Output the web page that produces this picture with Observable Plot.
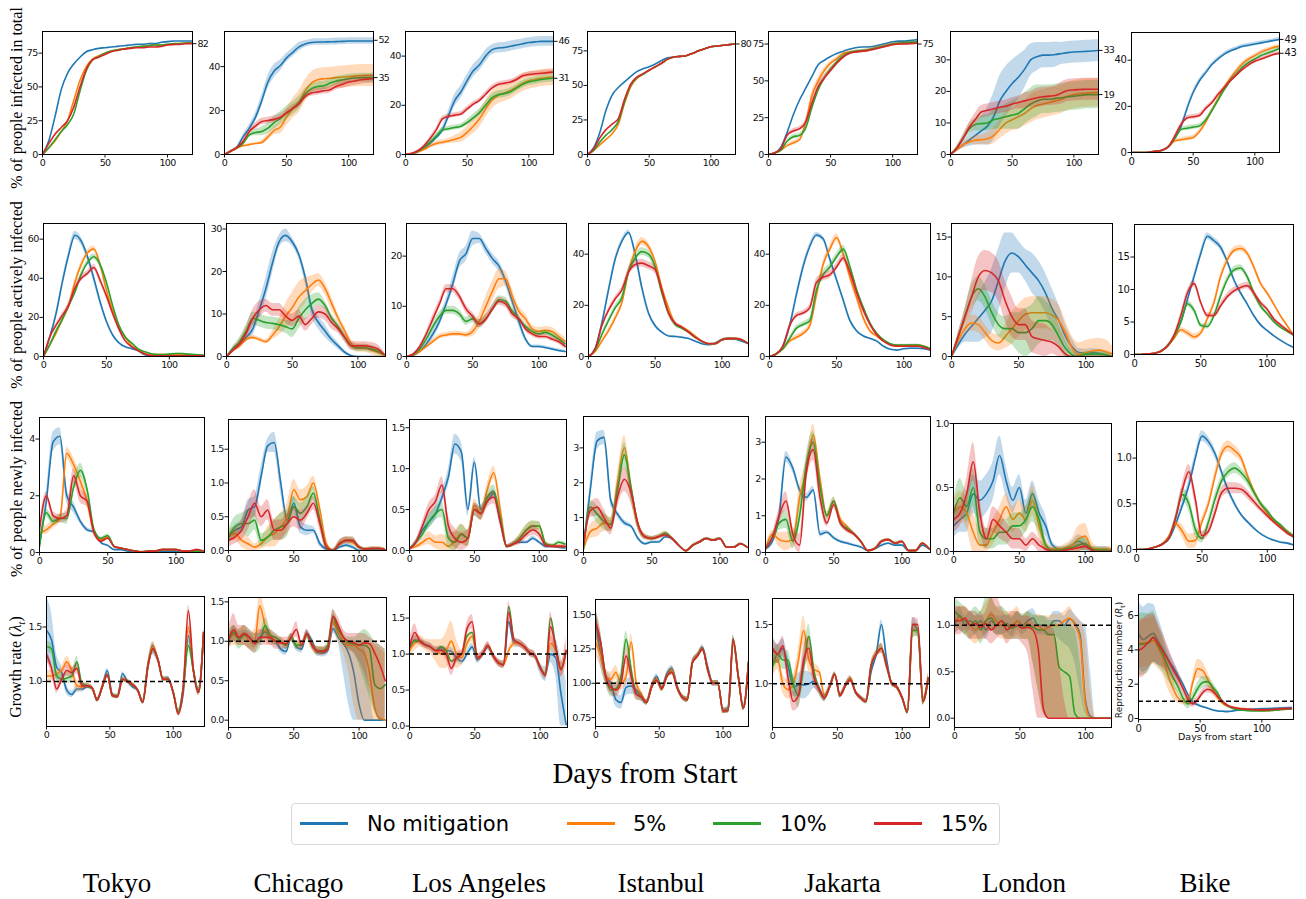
<!DOCTYPE html>
<html>
<head>
<meta charset="utf-8">
<script src="https://cdn.jsdelivr.net/npm/d3@7"></script>
<script src="https://cdn.jsdelivr.net/npm/@observablehq/plot@0.6"></script>
<style>
html,body{margin:0;padding:0;background:#fff;}
#root{position:relative;width:1306px;height:899px;overflow:hidden;background:#fff;}
.rowlab{position:absolute;font-family:"Liberation Serif","Times New Roman",serif;font-size:16px;white-space:nowrap;color:#000;transform:translate(-50%,-50%) rotate(-90deg);line-height:1;}
.city{position:absolute;font-family:"Liberation Serif","Times New Roman",serif;font-size:27px;white-space:nowrap;color:#000;transform:translate(-50%,-50%);line-height:1;}
.big{position:absolute;font-family:"Liberation Serif","Times New Roman",serif;font-size:29px;white-space:nowrap;color:#000;transform:translate(-50%,-50%);line-height:1;}
.small{position:absolute;font-family:"DejaVu Sans",sans-serif;font-size:9.5px;white-space:nowrap;color:#111;line-height:1;}
#legend{position:absolute;left:291px;top:803px;width:709px;height:42px;border:1px solid #d6d6d6;border-radius:4px;box-sizing:border-box;background:#fff;}
.lgline{position:absolute;height:3px;}
.lgtext{position:absolute;font-family:"DejaVu Sans",sans-serif;font-size:21px;line-height:1;transform:translateY(-50%);white-space:nowrap;color:#000;}
</style>
</head>
<body>
<div id="root"></div>
<script>
// ---------- categories / labels ----------
const SERIES = ["No mitigation","5%","10%","15%"];
const COLORS = ["#1f77b4","#ff7f0e","#2ca02c","#d62728"];
const CITIES = ["Tokyo","Chicago","Los Angeles","Istanbul","Jakarta","London","Bike"];
const ROW_LABELS = ["% of people infected in total","% of people actively infected","% of people newly infected","Growth rate (λ_t)"];
const X_TICKS = [0,50,100];

// ---------- day grids ----------
const D5 = [0,5,10,15,20,25,30,35,40,45,50,55,60,65,70,75,80,85,90,95,100,105,110,115,120];
const D5T = [0,5,10,15,20,25,30,35,40,45,50,55,60,65,70,75,80,85,90,95,100,105,110,115,120,127];
const D4 = [0,4,8,12,16,20,24,28,32,36,40,44,48,52,56,60,64,68,72,76,80,84,88,92,96,100,104,108,112,116,120];
const D4X = [0,4,8,12,16,20,24,28,32,36,40,44,48,52,56,60,64,68,72,76,80,84,88,92,96,100,104,108,112,116,120,124];

// ---------- row 1: % infected in total ----------
const tok_tot_n = [0,10,28,48,60,67,72,76,77.5,78.5,79,79.5,80,80.5,81,81.5,81.5,82,82,83,83.5,84,84,84,84];
const tok_tot_5 = [0,5,10,17,25,40,55,65,70.5,73,75,76.5,77.5,78,79,79.5,80,80.5,81,81,81.5,81.5,82,82.5,82.5];
const tok_tot_10 = [0,5,11,17,22,30,47,62,70,72.5,75,76.5,77.5,78,79,79.5,80,80.5,81,81,81.5,82,82,82.5,82.5];
const tok_tot_15 = [0,8,15,20,25,35,50,63,70,72,74,76,77,78,78.5,79,79,79.5,79.5,80,81,81.5,81.5,82,82];
const chi_tot_n = [0,1.5,3.3,8,12,17,24.5,33,38,40.5,44,46.5,49,50.3,51,51.2,51.2,51.3,51.4,51.5,51.7,51.7,51.7,51.7,51.7];
const chi_tot_5 = [0,1.5,3,4,4.5,5,5.5,8,11,12.5,17,21,24,29,32.5,34,34.5,34.7,35,35.3,35.5,35.8,36,36,36];
const chi_tot_10 = [0,1.5,3,5,9,10,10.5,12,14.5,16.5,19,21,23.5,27.5,30,31,31.3,32.5,33.5,34,34.5,34.8,35,35,35];
const chi_tot_15 = [0,1.5,3,6,10.5,13,15,15.5,16,17,19,21,23,26.5,28,28.5,29,29.5,31,32,33,33.5,34,34.3,34.5];
const chi_tot_n_sd = [0,0.3,0.5,1,1.5,2,2.5,3,3,2.5,2,2,2,1.5,1.5,1.5,1.5,1.5,1.5,1.5,1.5,1.5,1.5,1.5,1.5];
const chi_tot_5_sd = [0,0.3,0.5,0.5,0.5,0.5,1,1.5,2,3,4,4.5,5,5,5,5,5,5,5,5,5,5,5,5,5];
const chi_tot_10_sd = [0,0.3,0.5,0.8,1,1.5,2,2.5,3,3,3,3,3,2.5,2,2,2,2,2,2,2,2,2,2,2];
const chi_tot_15_sd = [0,0.3,0.5,0.8,1,1.5,1.5,1.5,1.5,1.5,1.5,1.5,1.5,1.5,1.5,1.5,1.5,1.5,1.5,2,2,2,2,2,2];
const la_tot_n = [0,0.3,1,2.5,4.5,7,10,16,22,25.5,30,34,36.5,40,42.5,43.3,43.5,44,44.5,45,45.5,45.8,46,46,46];
const la_tot_5 = [0,0.3,1,2,3.5,4.5,5,5.5,6.2,7,9,11.5,14.5,18.5,22,24,25,26,27.5,29,30,30.5,31,31.3,31.5];
const la_tot_10 = [0,0.4,1.3,3,5,7.5,10,10.5,11,11.5,13,15,17,20,23,24.3,24.7,25.5,27,28.5,29.5,30,30.5,30.8,31];
const la_tot_15 = [0,0.5,1.5,3.5,6.5,10,14.5,15.5,16,16.5,18.5,20.5,22,24.5,27,28.5,29,29.5,30.5,32,32.5,32.8,33,33.3,33.5];
const la_tot_n_sd = [0,0,0.3,0.5,1,1,1.5,2,2.5,2.5,2.5,2.5,2.5,2.5,2,2,2,2,2,2,2,2,2,2,2];
const la_tot_5_sd = [0,0,0.3,0.5,1,1,1,1,1.5,2,2.5,3,3.5,3.5,3.5,3.5,3.5,3.5,3.5,3.5,3.5,3.5,3.5,3.5,3.5];
const la_tot_10_sd = [0,0,0.3,0.5,0.8,1,1,1,1,1,1.2,1.5,1.5,1.5,1.5,1.5,1.5,1.5,1.5,1.5,1.5,1.5,1.5,1.5,1.5];
const la_tot_15_sd = [0,0,0.3,0.5,0.8,1,1,1,1,1,1,1,1,1,1,1,1,1,1,1,1,1,1,1,1];
const ist_tot_n = [0,5,16,32,43,48.5,52.5,56.5,60,62,63.5,65.5,68,70,70.5,71,71.5,73,75,76.5,78,78.5,79,79.5,80];
const ist_tot_5 = [0,3,7,11,15,22,37,49,55,58,61,63.5,66,69,70.5,71,71.5,73,75,76.5,78,78.5,79,79.5,80];
const ist_tot_10 = [0,3,9,14,18,24,38,50,55.5,58,61,63.5,66,69,70.5,71,71.5,73,75,76.5,78,78.5,79,79.5,80];
const ist_tot_15 = [0,4,12,18,22,26,40,51,56,58.5,61,63.5,66,69,70.5,71,71.5,73,75,76.5,78,78.5,79,79.5,80];
const jak_tot_n = [0,1,5,15,27,37,45,53,61,64,66.5,68.5,70,71.5,72.5,73,73,73.5,74.5,75.5,76.5,77,77,77.5,78];
const jak_tot_5 = [0,1,3,6,8,10,22,40,50,57,62,65,68.5,69.5,70,70.5,71,72,73,74,75,75.3,75.5,75.8,76];
const jak_tot_10 = [0,1,3,9,12,13,18,32,44,52,58,63,67,69,70,70.5,71,72,73,74,75,75.5,76,76.3,76.5];
const jak_tot_15 = [0,1,4,13,16,17.5,22,35,46,52,57,62,66,68.5,69.5,70,70.5,71.5,72.5,73.5,74.5,75,75,75.3,75.5];
const jak_tot_m_sd = [0,0.3,0.5,1,1.5,1.5,2,2.5,2.5,2,1.5,1,1,0.8,0.8,0.8,0.8,0.8,0.8,0.8,0.8,0.8,0.8,0.8,0.8];
const lon_tot_n = [0,1.5,3,4.5,6,7.5,9,12,17,20,22.5,24.5,27,30,31,31.5,31.5,31.7,32,32.3,32.5,32.6,32.7,32.8,33];
const lon_tot_5 = [0,1.5,3,4,4.5,4.7,5,6,8,10,11,12,13,14.5,15.5,16,16.5,17,17.5,18.5,19,19.3,19.5,19.6,19.7];
const lon_tot_10 = [0,2,5,8,9.5,9.8,10,11,11.5,12,12.5,13,14.5,16,17,17.5,17.5,17.8,18,18.3,18.5,18.7,19,19,19];
const lon_tot_15 = [0,2,5,8.5,11,13.5,14,14.5,15,15.3,16,16.5,17,17.5,18,18.3,18.5,18.7,19.5,20.3,20.5,20.6,20.7,20.7,20.7];
const lon_tot_n_sd = [0,0.5,1,2,3,4.5,6,7.5,8,8,7.5,7,6,5,4.5,4,4,4,3.5,3.5,3.5,3.5,3.5,3.5,3.5];
const lon_tot_5_sd = [0,0.5,1,1,1.5,1.5,2,2.5,3,3.5,3.5,4,4,4.5,4.5,4.5,4.5,4.5,4.5,4.5,4.5,4.5,4.5,4.5,4.5];
const lon_tot_10_sd = [0,0.5,1,1.5,2,2.5,2.5,3,3.5,4,4.5,5,5,5,5,4.5,4.5,4.5,4.5,4.5,4.5,4.5,4.5,4.5,4.5];
const lon_tot_15_sd = [0,0.5,1,1.5,2,2,2,2,2,2,2,2,2.5,2.5,3,3,3,3,3.5,3.5,3.5,3.5,3.5,3.5,3.5];
const bik_tot_n = [0,0,0,0.2,0.5,1,2.5,6,11,19,26,31,34.5,38,40.5,42.5,44,45,46,46.5,47,47.5,48,48.5,49];
const bik_tot_5 = [0,0,0,0.2,0.5,1,2.5,5,5.5,6,6.5,9,13,18,23,28,32,35.5,38.5,40.5,42,43.5,44.5,45.5,46];
const bik_tot_10 = [0,0,0,0.2,0.5,1,2.5,6,10,10.5,11,11.5,14,18,22.5,27,31,34,37,39,40.5,42,43,44,45];
const bik_tot_15 = [0,0,0,0.2,0.5,1,2.5,7,12,15,15.5,16,19,21.5,25,28,31,33.5,36,38,39.5,40.5,41.5,42.5,43];
const bik_tot_sd = [0,0,0,0,0.1,0.2,0.3,0.6,0.8,1,1,1,0.8,0.8,0.8,0.8,0.8,0.8,0.8,0.8,0.8,0.8,0.8,0.8,0.8];
const END_LABELS = [[82],[52,35],[46,31],[80],[75],[33,19],[49,43]];

// ---------- row 2: % actively infected ----------
const tok_act_n = [0,10,22,38,52,62,59,51,40,28,18,11,7,5,4,3,1,0.5,0.5,0.5,0.5,0.5,0.5,0.5,0.5,0.5];
const tok_act_5 = [0,6,12,19,26,38,47,53,55,47,34,23.5,15,10,5.5,3.5,1.5,1,1,1,1,1,1,0.8,0.5,0.5];
const tok_act_10 = [0,6,13,19,26,33,42,48,51,47,38,26,16,10,7,4,2.5,1.5,1,1,1.2,1.5,1.5,1.2,1,0.8];
const tok_act_15 = [0,10,16,21,26,35,40,42.5,45.5,39,31,22,14,8,5,3,1.5,0.5,0.3,0.3,0.3,0.3,0.3,0.3,0.3,0.3];
const tok_act_n_sd = [0,0.5,1,1.5,2,2,2,2,2,1.5,1,0.8,0.5,0.3,0.3,0.3,0.2,0.2,0.2,0.2,0.2,0.2,0.2,0.2,0.2,0.2];
const tok_act_m_sd = [0,0.5,1,1.2,1.5,1.5,1.5,1.5,1.5,1.5,1.2,1,0.8,0.5,0.3,0.3,0.2,0.2,0.2,0.2,0.2,0.2,0.2,0.2,0.2,0.2];
const chi_act_n = [0,1.5,3,4.5,6.5,11,16,22,27,28.5,27,24,18.5,11,8,6,4,2.5,1,0.2,0,0,0,0,0];
const chi_act_5 = [0,1.5,2.5,4,4.5,4,3.5,5,7,9.5,11.5,14,15.5,17,18,16,12.5,9,6,3,2,2,1.5,1,0.3];
const chi_act_10 = [0,2,3.5,6,9,8.5,8,7.8,7.5,7,6.5,9,11,12.5,13.5,12,9,7,4.5,2.5,2,2,1.8,1.3,0.5];
const chi_act_15 = [0,1.5,3,5.5,9,11,12,11,11,9.5,8.5,9.5,7.5,9,10.5,10,8,6.5,4.5,2.5,2.5,2.5,2.3,1.8,0.5];
const chi_act_n_sd = [0,0.3,0.5,1,1.5,2,2.5,2.5,1.5,1.5,1,1,1.5,1.5,1.5,1.5,1,0.8,0.5,0.3,0,0,0,0,0];
const chi_act_5_sd = [0,0.3,0.5,0.5,0.5,0.5,0.5,1,2,3,3.5,3.5,3,2,1.5,1.5,1.5,1,1,1,1,1,1,1,0.5];
const chi_act_10_sd = [0,0.5,1,1.5,1.5,1.5,1.5,1.5,1.5,1.5,2,2.5,2.5,2,1.5,1,1,1,1,0.8,0.8,0.8,0.8,0.8,0.5];
const chi_act_15_sd = [0,0.5,1,1.5,2,2,1.5,1.5,1.5,1.5,1.5,1.5,1.5,1.5,1.5,1.5,1.5,1,1,1,1,1,1,1,0.5];
const la_act_n = [0,0.2,1,2.5,4.5,7,10.5,14.5,19,20.5,23.5,23.5,21.5,19.5,18,15,11,7,3.5,2,2,1.8,1.5,1.2,1];
const la_act_5 = [0,0.3,1,2,3,4,4.3,4.5,4.5,4.3,5,7,10,13,15.5,15.5,12,9,7.5,5.5,5,5.2,5,4,3];
const la_act_10 = [0,0.4,1.5,3.5,6,8,9.2,9.2,8.5,7,7.5,6.5,7.5,9.5,11.3,11,9,7.5,6,5,4.5,4.8,4.3,3.5,2.5];
const la_act_15 = [0,0.5,2,4.5,7.5,10.5,13.5,13.5,12,9.5,8,6.5,7.5,9.5,11,10.5,8.5,7.5,5.5,4.5,4,4,3.5,3,2];
const la_act_n_sd = [0,0,0.3,0.5,1,1,1,1.5,1.5,1.5,1.5,1,1,1,1,1,1,1,0.5,0.3,0.3,0.3,0.3,0.3,0.3];
const la_act_5_sd = [0,0,0.3,0.5,0.5,0.5,0.5,0.5,0.5,0.5,1,1.5,2,2,2,1.5,1.5,1,1,0.8,0.8,0.8,0.8,0.8,0.8];
const la_act_10_sd = [0,0,0.3,0.5,0.8,0.8,0.8,0.8,0.8,0.8,0.8,0.8,0.8,0.8,0.8,0.8,0.8,0.6,0.5,0.5,0.5,0.5,0.5,0.5,0.5];
const la_act_15_sd = [0,0,0.3,0.5,0.8,0.8,0.8,0.8,0.8,0.8,0.8,0.8,0.8,0.8,0.8,0.8,0.8,0.6,0.5,0.5,0.5,0.5,0.5,0.5,0.5];
const ist_act_n = [0,3,13,26,38,45,48.5,40,27,17,12,9.5,8,7.8,7.5,7,6,5,4.6,5.2,6.5,7,6.8,6,5];
const ist_act_5 = [0,2,6,10,15,21,33,41,45,43,37,27,19,13,11.5,10,8,6,5,5,6.5,7,7,6.5,5];
const ist_act_10 = [0,2.5,8.5,14,19,23,33,38.5,41,40,35,25,17,12.5,11,9.5,7.5,6,5,5,6.5,7,7,6.5,5];
const ist_act_15 = [0,3,12,18,22.5,26,33,36,36.5,35.5,34,26,17,13,11.5,9.5,7.5,6,5,5,6.5,7,7,6.5,5];
const ist_act_n_sd = [0,0.3,0.8,1,1,1,1,1.5,1.5,1,0.8,0.5,0.3,0.3,0.3,0.3,0.3,0.3,0.3,0.3,0.3,0.3,0.3,0.3,0.3];
const ist_act_m_sd = [0,0.3,0.8,1,1,1.2,1.5,1.5,1.5,1.5,1.5,1.2,1,0.8,0.5,0.5,0.4,0.3,0.3,0.3,0.3,0.3,0.3,0.3,0.3];
const jak_act_n = [0,1,4,12,24,35,43,47.5,46,38,30,22,14,10,8,7,6,4,2.8,2.5,3,3.2,3.2,3,2.5];
const jak_act_5 = [0,1,3,6,7.5,9,12,24,36,42,46.5,40,31,23,15,10,8,6,4.8,4.3,4.3,4.5,4.5,4,3];
const jak_act_10 = [0,1,3,7,11,12.5,14,26,32,35,39,42,35,26,19,13,9,6.5,5,4.5,4.5,4.5,4.5,4,3];
const jak_act_15 = [0,1,4,12,16,17,19,29,31,32,35,38.5,33,25,18,12.5,8.5,6,4.5,4,4,4,4,3.5,2.5];
const jak_act_n_sd = [0,0.2,0.5,1,1.2,1.2,1.2,1,1,1,1,1,0.8,0.5,0.4,0.3,0.3,0.3,0.2,0.2,0.2,0.2,0.2,0.2,0.2];
const jak_act_m_sd = [0,0.2,0.5,0.8,1,1,1.2,1.5,1.5,1.5,1.5,1.5,1.5,1.5,1,0.8,0.5,0.4,0.3,0.3,0.3,0.3,0.3,0.3,0.3];
const lon_act_n = [0,1.5,2.8,3.8,4.8,5.8,7,9.5,12,13,12.5,11.5,10.5,9.5,8,6,4.5,2.5,1.2,0.5,0.4,0.5,0.4,0.2,0];
const lon_act_5 = [0,2,3.5,4.2,4,3,2,1.7,2.5,3.5,4.5,5.3,5.5,5.5,5.5,5.2,4.5,3,1,0.2,0.5,0.7,0.8,0.6,0.3];
const lon_act_10 = [0,2.5,5,7.5,8.5,7.5,5.5,4,3.5,3.5,3,3,3.5,4.5,4.5,4,2.5,1,0.2,0,0.3,0.3,0.3,0.2,0];
const lon_act_15 = [0,2.5,5,7.5,10,10.8,10.5,9.5,7,5,4,4,2.5,2.2,2,1.8,1.2,0.3,0,0,0,0,0,0,0];
const lon_act_n_sd = [0,0.5,1,2,3,3.5,4,4,3.5,2.5,2,2,2.5,2.5,2.5,2.5,2,1.5,1,0.5,0.5,0.5,0.5,0.5,0.5];
const lon_act_5_sd = [0,0.5,0.8,1,1,1,1,1,1.5,2,2,2,2,2,2,2,2,1.5,1.5,1.5,1.5,1.5,1.5,1.5,1];
const lon_act_10_sd = [0,0.5,1,1.5,1.5,1.5,1.5,1.5,1.5,2,2.5,3,3,3,2.5,2,1.5,1,0.5,0.3,0.3,0.3,0.3,0.3,0];
const lon_act_15_sd = [0,0.5,1,2,2.5,2.5,2.5,2.5,2.5,2.5,2,2,2,2,2,1.5,1.2,0.5,0,0,0,0,0,0,0];
const bik_act_n = [0,0,0.1,0.2,0.5,1.3,2.8,5,8.5,12,15.5,18.2,17.5,16.5,14.3,11.5,9.5,7.8,6,4.6,3.7,2.9,2.2,1.6,1.1];
const bik_act_5 = [0,0,0.1,0.2,0.5,1.3,2.5,3.8,3.3,2.7,3.3,5.5,8,12,14.5,16,16.3,15.6,13.5,11,9.5,7.8,6,4.5,3];
const bik_act_10 = [0,0,0.1,0.2,0.5,1.3,2.8,5,7.8,6.8,4.5,4.3,6,9,11.5,13,13.3,12,9.5,7.5,6.3,5.1,4.2,3.6,3];
const bik_act_15 = [0,0,0.1,0.2,0.5,1.3,3,6,9.5,10.9,8,6,6,7.5,8.9,9.8,10.3,10.6,9.5,8,7,5.5,4.6,3.8,3];
const bik_act_n_sd = [0,0,0,0,0.1,0.2,0.3,0.4,0.5,0.5,0.5,0.5,0.5,0.5,0.4,0.3,0.3,0.2,0.2,0.2,0.1,0.1,0.1,0.1,0.1];
const bik_act_m_sd = [0,0,0,0,0.1,0.2,0.3,0.4,0.5,0.5,0.4,0.4,0.4,0.5,0.5,0.5,0.5,0.5,0.5,0.4,0.3,0.3,0.2,0.2,0.2];

// ---------- row 3: % newly infected ----------
const tok_new_n = [0.3,1.8,3.9,4.1,2.0,1.6,1.1,0.8,0.72,0.35,0.25,0.1,0.1,0.05,0.05,0,0.02,0.02,0.05,0.05,0.05,0.02,0,0,0];
const tok_new_5 = [0.7,0.8,1.0,1.2,3.5,3.1,2.5,1.8,0.7,0.45,0.55,0.2,0.15,0.1,0.05,0.02,0.05,0.05,0.1,0.1,0.1,0.05,0.05,0.05,0.05];
const tok_new_10 = [0.2,1.4,1.1,1.2,1.2,2.3,2.9,2.2,0.8,0.5,0.6,0.2,0.15,0.1,0.05,0.02,0.05,0.05,0.1,0.1,0.1,0.05,0.05,0.05,0.05];
const tok_new_15 = [0.8,2.0,1.3,1.2,1.3,2.7,2.0,1.8,0.7,0.4,0.5,0.2,0.15,0.1,0.05,0.02,0.05,0.05,0.1,0.1,0.1,0.05,0.05,0.1,0.05];
const tok_new_n_sd = [0.1,0.3,0.35,0.3,0.25,0.2,0.1,0.08,0.05,0.03,0.03,0.02,0.02,0.02,0.02,0.02,0.02,0.02,0.02,0.02,0.02,0.02,0.02,0.02,0.02];
const tok_new_m_sd = [0.1,0.15,0.15,0.15,0.2,0.25,0.25,0.2,0.1,0.05,0.05,0.03,0.02,0.02,0.02,0.02,0.02,0.02,0.02,0.02,0.02,0.02,0.02,0.02,0.02];
const chi_new_n = [0.2,0.3,0.35,0.6,0.65,1.1,1.55,1.6,1.0,0.45,0.7,0.35,0.3,0.3,0.1,0.02,0,0.05,0.08,0.05,0,0,0.02,0.01,0];
const chi_new_5 = [0.2,0.25,0.15,0.1,0.05,0.1,0.2,0.25,0.35,0.5,0.9,0.75,0.8,1.0,0.6,0.1,0,0.1,0.15,0.12,0.05,0.02,0.03,0.03,0.01];
const chi_new_10 = [0.2,0.35,0.4,0.4,0.45,0.15,0.2,0.3,0.35,0.4,0.65,0.55,0.65,0.85,0.45,0.05,0,0.1,0.15,0.15,0.05,0.02,0.03,0.03,0.01];
const chi_new_15 = [0.15,0.2,0.3,0.5,0.7,0.5,0.6,0.3,0.3,0.4,0.5,0.45,0.55,0.7,0.4,0.05,0,0.1,0.15,0.15,0.05,0.02,0.03,0.03,0.01];
const chi_new_n_sd = [0.05,0.08,0.1,0.15,0.15,0.15,0.1,0.15,0.15,0.08,0.1,0.1,0.08,0.05,0.05,0.02,0.02,0.03,0.03,0.03,0.02,0.02,0.02,0.02,0.02];
const chi_new_5_sd = [0.1,0.1,0.1,0.1,0.05,0.08,0.15,0.2,0.2,0.2,0.15,0.15,0.15,0.1,0.1,0.05,0.02,0.05,0.05,0.05,0.03,0.02,0.02,0.02,0.02];
const chi_new_10_sd = [0.1,0.15,0.15,0.2,0.15,0.1,0.1,0.15,0.2,0.2,0.15,0.15,0.15,0.1,0.1,0.05,0.02,0.05,0.05,0.05,0.03,0.02,0.02,0.02,0.02];
const chi_new_15_sd = [0.1,0.1,0.15,0.2,0.2,0.15,0.15,0.15,0.15,0.15,0.15,0.15,0.1,0.1,0.1,0.05,0.02,0.05,0.05,0.05,0.03,0.02,0.02,0.02,0.02];
const la_new_n = [0.02,0.1,0.25,0.35,0.45,0.65,0.9,1.3,1.2,0.5,1.08,0.5,0.6,0.7,0.35,0.05,0.08,0.1,0.1,0.15,0.1,0.05,0.05,0.04,0.03];
const la_new_5 = [0.02,0.05,0.1,0.15,0.1,0.1,0.05,0.12,0.2,0.15,0.55,0.45,0.75,0.95,0.5,0.05,0.08,0.15,0.25,0.3,0.3,0.08,0.06,0.05,0.05];
const la_new_10 = [0.02,0.1,0.2,0.35,0.45,0.5,0.15,0.1,0.2,0.15,0.5,0.45,0.65,0.72,0.4,0.05,0.08,0.15,0.25,0.3,0.3,0.08,0.06,0.1,0.08];
const la_new_15 = [0.02,0.1,0.3,0.5,0.6,0.8,0.3,0.15,0.1,0.15,0.5,0.45,0.6,0.65,0.35,0.05,0.08,0.12,0.2,0.25,0.2,0.06,0.05,0.05,0.05];
const la_new_n_sd = [0.01,0.03,0.05,0.08,0.08,0.08,0.1,0.12,0.12,0.08,0.06,0.06,0.05,0.05,0.04,0.02,0.02,0.02,0.02,0.03,0.02,0.02,0.02,0.02,0.02];
const la_new_m_sd = [0.01,0.03,0.05,0.08,0.08,0.1,0.12,0.12,0.12,0.1,0.08,0.08,0.08,0.08,0.06,0.02,0.03,0.05,0.06,0.06,0.05,0.03,0.02,0.02,0.02];
const ist_new_n = [0.2,1.8,3.2,3.3,1.5,1.1,0.85,0.75,0.4,0.25,0.3,0.3,0.45,0.4,0.2,0.05,0.2,0.3,0.4,0.35,0.4,0.15,0.15,0.25,0.15];
const ist_new_5 = [0.1,0.6,0.7,0.85,0.8,2.0,3.0,1.8,0.8,0.45,0.4,0.45,0.55,0.4,0.2,0.05,0.2,0.3,0.4,0.35,0.4,0.15,0.15,0.25,0.15];
const ist_new_10 = [0.1,1.3,1.1,0.9,0.8,1.8,2.8,1.8,0.8,0.45,0.4,0.45,0.55,0.4,0.2,0.05,0.2,0.3,0.4,0.35,0.4,0.15,0.15,0.25,0.15];
const ist_new_15 = [0.2,1.2,1.3,1.0,0.7,1.6,2.1,1.7,0.8,0.45,0.4,0.45,0.5,0.4,0.2,0.05,0.2,0.3,0.4,0.35,0.4,0.15,0.15,0.25,0.15];
const ist_new_n_sd = [0.05,0.2,0.25,0.2,0.15,0.1,0.08,0.05,0.05,0.04,0.04,0.04,0.04,0.04,0.03,0.02,0.03,0.03,0.03,0.03,0.03,0.02,0.02,0.02,0.02];
const ist_new_m_sd = [0.05,0.2,0.25,0.25,0.2,0.3,0.35,0.3,0.15,0.08,0.06,0.06,0.06,0.05,0.03,0.02,0.03,0.03,0.03,0.03,0.03,0.02,0.02,0.02,0.02];
const jak_new_n = [0.1,0.3,1.0,2.6,2.3,1.7,1.5,1.7,0.5,0.55,0.4,0.3,0.25,0.2,0.15,0.05,0.1,0.2,0.25,0.2,0.2,0.05,0.05,0.2,0.1];
const jak_new_5 = [0.1,0.5,0.35,0.3,0.35,1.5,2.2,3.2,2.0,1.0,1.4,0.9,0.7,0.5,0.3,0.05,0.1,0.3,0.35,0.25,0.3,0.05,0.05,0.25,0.1];
const jak_new_10 = [0.1,0.4,0.8,0.9,0.3,1.0,2.4,3.0,1.8,1.0,1.4,0.8,0.65,0.5,0.3,0.05,0.1,0.3,0.35,0.25,0.3,0.05,0.05,0.25,0.1];
const jak_new_15 = [0.1,0.4,1.0,1.4,0.5,0.2,2.2,2.8,1.5,0.8,1.3,0.8,0.6,0.5,0.3,0.05,0.1,0.3,0.35,0.25,0.3,0.05,0.05,0.25,0.1];
const jak_new_n_sd = [0.05,0.1,0.15,0.15,0.12,0.1,0.1,0.1,0.08,0.05,0.05,0.04,0.04,0.03,0.03,0.02,0.02,0.03,0.03,0.03,0.03,0.02,0.02,0.02,0.02];
const jak_new_m_sd = [0.05,0.1,0.2,0.25,0.2,0.3,0.3,0.3,0.2,0.1,0.1,0.08,0.06,0.05,0.04,0.02,0.02,0.03,0.03,0.03,0.03,0.02,0.02,0.02,0.02];
const lon_new_n = [0.2,0.25,0.3,0.45,0.4,0.45,0.55,0.75,0.55,0.4,0.5,0.3,0.45,0.3,0.2,0.05,0.02,0.02,0.05,0.08,0.05,0.02,0.02,0.02,0];
const lon_new_5 = [0.3,0.35,0.3,0.15,0.05,0.05,0.15,0.25,0.35,0.25,0.3,0.25,0.4,0.2,0.05,0.02,0.02,0.03,0.05,0.1,0.12,0.03,0.02,0.02,0.02];
const lon_new_10 = [0.3,0.42,0.35,0.5,0.15,0.1,0.1,0.15,0.15,0.2,0.2,0.25,0.35,0.25,0.05,0.01,0.01,0.02,0.03,0.05,0.06,0.02,0.01,0.01,0];
const lon_new_15 = [0.25,0.3,0.45,0.7,0.3,0.1,0.25,0.2,0.15,0.1,0.1,0.05,0.1,0.05,0.02,0,0,0.01,0.02,0.03,0.04,0.01,0,0,0];
const lon_new_n_sd = [0.1,0.1,0.15,0.15,0.15,0.15,0.15,0.15,0.12,0.1,0.1,0.1,0.1,0.1,0.08,0.03,0.02,0.02,0.03,0.05,0.05,0.02,0.02,0.02,0.02];
const lon_new_5_sd = [0.1,0.12,0.12,0.15,0.12,0.1,0.1,0.1,0.1,0.1,0.1,0.1,0.12,0.1,0.05,0.02,0.02,0.03,0.05,0.1,0.1,0.05,0.02,0.02,0.02];
const lon_new_10_sd = [0.1,0.15,0.12,0.15,0.1,0.08,0.08,0.1,0.1,0.1,0.1,0.1,0.12,0.1,0.05,0.02,0.02,0.02,0.03,0.05,0.05,0.02,0.02,0.02,0.02];
const lon_new_15_sd = [0.1,0.1,0.12,0.15,0.12,0.08,0.1,0.1,0.08,0.08,0.08,0.05,0.05,0.05,0.02,0.02,0.02,0.02,0.02,0.03,0.03,0.02,0.01,0.01,0.01];
const bik_new_n = [0,0,0.01,0.03,0.06,0.12,0.28,0.48,0.7,1.0,1.24,1.18,1.05,0.85,0.65,0.5,0.38,0.3,0.23,0.17,0.13,0.1,0.08,0.07,0.05];
const bik_new_5 = [0,0,0.01,0.03,0.06,0.15,0.28,0.2,0.09,0.1,0.3,0.5,0.8,1.05,1.13,1.08,1.0,0.8,0.63,0.5,0.4,0.32,0.26,0.2,0.15];
const bik_new_10 = [0,0,0.01,0.03,0.06,0.13,0.35,0.6,0.5,0.22,0.12,0.3,0.55,0.75,0.85,0.89,0.84,0.75,0.62,0.5,0.42,0.33,0.27,0.2,0.14];
const bik_new_15 = [0,0,0.01,0.03,0.06,0.13,0.35,0.65,0.85,0.55,0.15,0.2,0.4,0.62,0.67,0.67,0.66,0.6,0.52,0.44,0.37,0.3,0.24,0.18,0.14];
const bik_new_n_sd = [0,0,0,0,0.01,0.02,0.03,0.05,0.06,0.06,0.06,0.05,0.05,0.04,0.03,0.03,0.02,0.02,0.02,0.01,0.01,0.01,0.01,0.01,0.01];
const bik_new_m_sd = [0,0,0,0,0.01,0.02,0.04,0.07,0.08,0.08,0.05,0.05,0.06,0.06,0.06,0.06,0.05,0.05,0.04,0.03,0.03,0.02,0.02,0.02,0.02];

// ---------- row 4: growth rate / reproduction number ----------
const tok_gr_n = [1.47,1.38,1.13,1.08,0.92,0.88,0.93,0.93,0.95,0.94,0.83,0.95,1.1,0.88,0.86,1.07,1.0,0.95,0.92,0.81,1.15,1.3,1.2,1.02,1.03,0.9,0.72,0.9,1.42,1.1,0.92,1.45];
const tok_gr_5 = [1.05,1.05,1.07,1.1,1.18,1.1,0.96,0.95,0.96,0.94,0.83,0.95,1.06,0.87,0.86,1.02,1.0,0.97,0.92,0.81,1.15,1.33,1.2,1.02,1.02,0.9,0.72,0.95,1.5,1.1,0.9,1.45];
const tok_gr_10 = [1.32,1.3,1.05,1.02,1.03,1.05,1.18,0.98,0.96,0.94,0.83,0.95,1.06,0.87,0.86,1.02,1.0,0.97,0.92,0.81,1.13,1.3,1.2,1.02,1.02,0.9,0.72,0.95,1.33,1.1,0.9,1.45];
const tok_gr_15 = [1.25,1.12,0.93,1.02,1.1,1.08,1.12,0.96,0.96,0.94,0.83,0.95,1.06,0.87,0.86,1.02,1.0,0.97,0.92,0.81,1.13,1.3,1.2,1.02,1.02,0.9,0.7,0.95,1.65,1.1,0.9,1.45];
const tok_gr_n_sd = [0.3,0.25,0.12,0.06,0.04,0.03,0.03,0.03,0.02,0.02,0.02,0.02,0.02,0.02,0.02,0.02,0.02,0.02,0.02,0.02,0.04,0.06,0.03,0.02,0.02,0.02,0.02,0.03,0.05,0.03,0.03,0.05];
const tok_gr_m_sd = [0.05,0.05,0.04,0.04,0.05,0.05,0.05,0.03,0.02,0.02,0.02,0.02,0.02,0.02,0.02,0.02,0.02,0.02,0.02,0.02,0.03,0.04,0.03,0.02,0.02,0.02,0.02,0.03,0.05,0.03,0.03,0.05];
const chi_gr_n = [1.0,1.1,1.05,1.08,1.05,0.98,1.05,1.12,1.03,1.0,0.9,0.87,1.05,0.93,0.9,1.1,1.0,0.86,0.85,0.88,1.16,1.05,0.97,0.85,0.6,0.2,0,0,0,0,0];
const chi_gr_n_lo = [0.95,1.0,0.98,1.02,0.98,0.92,0.98,1.05,0.97,0.95,0.85,0.82,1.0,0.88,0.85,1.05,0.95,0.81,0.8,0.83,1.1,0.98,0.6,0.2,0,0,0,0,0,0,0];
const chi_gr_n_hi = [1.05,1.2,1.12,1.14,1.12,1.04,1.12,1.19,1.09,1.05,0.95,0.92,1.1,0.98,0.95,1.15,1.05,0.91,0.9,0.93,1.22,1.12,1.02,1.0,1.0,1.0,0.95,0.4,0,0,0];
const chi_gr_5 = [1.0,1.08,1.05,1.1,1.0,1.0,1.45,1.2,1.05,1.0,1.0,0.95,1.05,0.95,0.95,1.08,0.95,0.88,0.88,0.9,1.25,1.1,1.0,0.95,0.95,0.9,0.85,0.6,0.15,0.02,0];
const chi_gr_5_lo = [0.9,0.95,0.95,0.95,0.9,0.9,1.1,1.0,0.95,0.95,0.95,0.9,1.0,0.9,0.9,1.03,0.9,0.83,0.83,0.85,1.15,1.0,0.85,0.6,0.2,0,0,0,0,0,0];
const chi_gr_5_hi = [1.1,1.2,1.15,1.2,1.1,1.15,1.6,1.4,1.15,1.05,1.05,1.0,1.1,1.0,1.0,1.13,1.0,0.93,0.93,0.95,1.35,1.2,1.05,1.0,1.0,1.0,1.0,0.98,0.95,0.9,0.85];
const chi_gr_10 = [1.0,1.12,1.02,1.08,1.05,0.98,1.0,1.2,1.08,1.05,1.0,0.95,1.05,0.95,0.95,1.08,0.95,0.88,0.88,0.95,1.3,1.15,1.05,0.98,0.97,0.95,0.95,0.9,0.45,0.4,0.45];
const chi_gr_10_lo = [0.9,1.0,0.9,0.95,0.9,0.85,0.9,1.05,1.0,0.95,0.95,0.9,1.0,0.9,0.9,1.03,0.9,0.83,0.83,0.9,1.2,1.05,0.95,0.9,0.85,0.7,0.5,0.3,0.1,0,0];
const chi_gr_10_hi = [1.1,1.2,1.15,1.2,1.15,1.1,1.1,1.3,1.15,1.1,1.05,1.0,1.1,1.0,1.0,1.13,1.0,0.93,0.93,1.0,1.4,1.25,1.1,1.05,1.05,1.1,1.15,1.1,1.0,0.95,0.9];
const chi_gr_15 = [1.02,1.15,1.05,1.1,1.05,0.97,1.05,1.05,1.05,1.0,0.98,0.97,1.05,1.15,0.95,1.1,0.95,0.88,0.87,0.9,1.32,1.2,1.05,1.0,0.98,0.95,0.98,0.97,0.85,0.7,0.5];
const chi_gr_15_lo = [0.9,1.0,0.95,0.95,0.9,0.85,0.95,0.95,0.95,0.9,0.9,0.9,1.0,1.05,0.9,1.05,0.9,0.83,0.82,0.85,1.2,1.1,0.95,0.9,0.85,0.75,0.6,0.4,0.15,0,0];
const chi_gr_15_hi = [1.15,1.35,1.2,1.2,1.15,1.1,1.15,1.15,1.15,1.1,1.05,1.05,1.1,1.25,1.0,1.15,1.0,0.93,0.92,0.95,1.4,1.3,1.15,1.1,1.1,1.1,1.1,1.05,1.0,0.95,0.9];
const la_gr_n = [1.05,1.2,1.18,1.13,1.1,1.05,1.07,1.05,1.04,0.95,0.9,1.0,1.1,0.92,1.0,1.1,0.98,0.88,0.85,1.45,1.15,1.15,1.1,1.02,0.98,0.8,0.72,1.0,0.95,0.45,0.02];
const la_gr_n_sd = [0.08,0.06,0.05,0.05,0.05,0.05,0.05,0.05,0.05,0.05,0.05,0.05,0.05,0.05,0.05,0.05,0.05,0.05,0.05,0.05,0.05,0.05,0.05,0.05,0.05,0.08,0.1,0.12,0.25,0.5,0.6];
const la_gr_5 = [1.05,1.15,1.18,1.13,1.1,1.05,1.0,1.05,1.18,1.0,0.95,1.15,1.25,0.95,1.0,1.12,0.98,0.88,0.85,1.05,1.15,1.15,1.1,1.02,0.98,0.82,0.72,1.15,1.05,0.8,1.05];
const la_gr_5_sd = [0.1,0.1,0.08,0.08,0.1,0.15,0.2,0.25,0.28,0.2,0.1,0.1,0.08,0.05,0.05,0.05,0.05,0.05,0.05,0.05,0.05,0.05,0.05,0.05,0.05,0.05,0.05,0.1,0.1,0.1,0.1];
const la_gr_10 = [1.1,1.18,1.18,1.13,1.1,1.05,1.1,1.05,0.9,0.95,1.0,1.25,1.3,0.95,1.0,1.12,0.98,0.88,0.85,1.66,1.2,1.15,1.1,1.02,0.98,0.82,0.72,1.5,1.1,0.8,1.05];
const la_gr_15 = [1.1,1.3,1.18,1.13,1.1,1.05,1.05,1.0,0.8,0.95,1.0,1.35,1.45,0.95,1.0,1.12,0.98,0.88,0.85,1.58,1.2,1.15,1.1,1.02,0.98,0.82,0.7,1.38,1.1,0.78,1.05];
const la_gr_15_sd = [0.08,0.12,0.05,0.05,0.05,0.05,0.05,0.08,0.1,0.08,0.05,0.08,0.1,0.05,0.05,0.05,0.05,0.05,0.05,0.15,0.05,0.05,0.05,0.05,0.05,0.05,0.05,0.2,0.1,0.1,0.2];
const ist_gr_n = [1.48,1.2,1.05,1.0,0.88,0.86,0.97,0.98,0.95,0.9,0.86,0.98,1.05,0.97,1.07,1.11,0.98,0.9,0.88,1.15,1.2,1.26,1.12,1.0,1.0,0.8,0.82,1.3,1.05,0.82,1.15];
const ist_gr_5 = [1.3,1.2,1.05,1.03,1.08,1.0,1.05,1.3,1.0,0.92,0.86,0.98,1.03,0.96,1.05,1.1,0.97,0.9,0.88,1.15,1.2,1.25,1.1,1.0,1.0,0.8,0.8,1.3,1.05,0.82,1.15];
const ist_gr_10 = [1.45,1.3,1.05,0.95,0.96,1.05,1.32,1.1,0.92,0.9,0.86,0.97,1.02,0.96,1.05,1.08,0.97,0.9,0.88,1.15,1.2,1.25,1.1,1.0,1.0,0.8,0.8,1.32,1.05,0.82,1.15];
const ist_gr_15 = [1.45,1.3,1.05,0.97,0.95,1.0,1.2,1.05,0.92,0.9,0.86,0.97,1.02,0.96,1.05,1.08,0.97,0.9,0.88,1.15,1.2,1.25,1.1,1.0,1.0,0.8,0.8,1.32,1.05,0.82,1.15];
const ist_gr_sd = [0.1,0.08,0.05,0.05,0.05,0.05,0.06,0.06,0.04,0.03,0.02,0.02,0.02,0.02,0.02,0.02,0.02,0.02,0.02,0.02,0.02,0.02,0.02,0.02,0.02,0.02,0.02,0.03,0.02,0.02,0.03];
const jak_gr_n = [1.3,1.25,1.3,1.15,0.97,0.99,0.99,1.0,1.02,0.96,0.88,0.98,1.08,0.9,0.98,1.05,0.93,0.88,0.85,1.1,1.25,1.5,1.2,1.0,0.97,0.88,0.76,1.5,1.45,0.85,1.05];
const jak_gr_5 = [1.15,1.2,1.0,0.95,1.0,1.2,1.45,1.2,1.12,1.1,0.9,0.97,1.08,0.9,0.98,1.05,0.93,0.88,0.85,1.15,1.25,1.3,1.15,1.0,0.97,0.88,0.76,1.45,1.45,0.85,1.05];
const jak_gr_10 = [1.15,1.25,1.2,1.2,1.0,0.9,1.15,1.4,1.1,0.95,0.88,0.97,1.08,0.9,0.98,1.03,0.93,0.88,0.85,1.15,1.25,1.3,1.15,1.0,0.97,0.88,0.76,1.45,1.45,0.85,1.05];
const jak_gr_15 = [1.3,1.25,1.32,1.05,0.85,0.9,1.2,1.3,1.05,0.95,0.88,0.97,1.08,0.9,0.98,1.03,0.93,0.88,0.85,1.15,1.25,1.3,1.15,1.0,0.97,0.88,0.76,1.5,1.5,0.85,1.05];
const jak_gr_sd = [0.1,0.08,0.08,0.08,0.08,0.1,0.12,0.1,0.06,0.04,0.03,0.02,0.02,0.02,0.02,0.02,0.02,0.02,0.02,0.03,0.03,0.04,0.03,0.02,0.02,0.02,0.02,0.06,0.05,0.03,0.04];
const lon_gr_n = [1.0,1.1,1.0,1.05,1.0,1.05,0.95,1.05,1.0,1.0,1.02,0.98,1.05,1.0,1.05,1.08,1.0,1.0,0.98,1.05,1.05,1.0,1.07,1.02,0.9,0.2,0.02,0,0,0,0];
const lon_gr_n_lo = [0.9,0.95,0.9,0.95,0.9,0.95,0.85,0.95,0.9,0.9,0.92,0.88,0.95,0.9,0.95,0.98,0.9,0.9,0.88,0.9,0.85,0.8,0.75,0.6,0.3,0.05,0,0,0,0,0];
const lon_gr_n_hi = [1.1,1.2,1.1,1.15,1.1,1.15,1.05,1.15,1.1,1.1,1.12,1.08,1.15,1.1,1.15,1.18,1.1,1.1,1.08,1.15,1.15,1.1,1.17,1.12,1.05,1.0,0.5,0,0,0,0];
const lon_gr_5 = [1.05,1.08,1.05,1.0,0.95,1.0,1.05,1.12,1.05,1.0,1.0,1.0,1.05,0.98,1.02,0.98,1.0,0.95,0.98,1.0,1.0,1.05,1.08,1.0,0.85,0.15,0,0,0,0,0];
const lon_gr_5_lo = [0.9,0.95,0.9,0.85,0.8,0.85,0.9,0.95,0.9,0.85,0.85,0.85,0.9,0.85,0.85,0.6,0.3,0.05,0,0,0,0,0,0,0,0,0,0,0,0,0];
const lon_gr_5_hi = [1.2,1.2,1.2,1.15,1.1,1.15,1.25,1.3,1.2,1.15,1.15,1.15,1.2,1.1,1.15,1.1,1.12,1.1,1.1,1.12,1.12,1.15,1.2,1.1,1.05,0.9,0.3,0,0,0,0];
const lon_gr_10 = [1.15,1.1,1.05,1.0,1.05,0.95,1.05,1.08,1.0,1.05,1.0,0.97,1.0,0.98,1.0,0.98,0.95,0.95,0.9,0.9,0.55,0.5,0.45,0.05,0,0,0,0,0,0,0];
const lon_gr_10_lo = [1.0,0.95,0.9,0.85,0.9,0.8,0.9,0.95,0.9,0.9,0.85,0.85,0.85,0.85,0.85,0.6,0.3,0.05,0,0,0,0,0,0,0,0,0,0,0,0,0];
const lon_gr_10_hi = [1.3,1.25,1.2,1.15,1.2,1.15,1.3,1.3,1.2,1.2,1.15,1.1,1.15,1.12,1.15,1.12,1.1,1.1,1.05,1.05,1.0,1.0,1.0,0.95,0.6,0.1,0,0,0,0,0];
const lon_gr_15 = [1.05,1.05,1.08,1.0,1.02,0.98,1.02,0.95,1.0,1.05,0.95,1.0,1.0,0.97,0.98,0.95,0.75,0.1,0,0,0,0,0,0,0,0,0,0,0,0,0];
const lon_gr_15_lo = [0.9,0.9,0.95,0.85,0.85,0.85,0.85,0.8,0.85,0.9,0.8,0.85,0.85,0.8,0.7,0.3,0,0,0,0,0,0,0,0,0,0,0,0,0,0,0];
const lon_gr_15_hi = [1.2,1.2,1.2,1.15,1.15,1.1,1.15,1.3,1.3,1.2,1.1,1.15,1.15,1.1,1.1,1.05,1.0,1.0,1.0,0.95,0.6,0.2,0,0,0,0,0,0,0,0,0];
const bik_gr_n = [4.96,4.6,4.8,4.96,4.5,4.0,3.45,3.0,2.5,2.0,1.4,0.95,0.8,0.68,0.6,0.5,0.44,0.42,0.4,0.43,0.48,0.5,0.52,0.54,0.55,0.56,0.57,0.58,0.6,0.61,0.62,0.63];
const bik_gr_5 = [4.42,4.4,4.43,4.55,4.1,3.5,2.5,1.75,1.2,0.98,0.96,2.1,2.9,2.8,2.3,1.75,1.25,0.9,0.72,0.65,0.6,0.56,0.52,0.5,0.48,0.46,0.45,0.47,0.5,0.52,0.54,0.55];
const bik_gr_10 = [4.3,4.35,4.4,4.75,4.25,3.7,3.0,2.4,1.85,1.2,0.85,1.2,1.75,2.1,2.15,1.85,1.5,1.0,0.75,0.6,0.52,0.48,0.46,0.44,0.44,0.44,0.45,0.47,0.5,0.52,0.54,0.55];
const bik_gr_15 = [3.96,4.15,4.45,4.7,4.35,3.9,3.4,2.85,2.35,1.75,1.15,0.85,1.1,1.5,1.7,1.6,1.3,1.0,0.78,0.65,0.6,0.56,0.54,0.52,0.5,0.5,0.5,0.52,0.54,0.56,0.57,0.58];
const bik_gr_n_sd = [1.9,1.9,1.9,1.7,1.4,1.0,0.6,0.4,0.3,0.2,0.15,0.1,0.08,0.06,0.05,0.05,0.05,0.05,0.05,0.05,0.05,0.05,0.05,0.05,0.05,0.05,0.05,0.05,0.05,0.05,0.05,0.05];
const bik_gr_5_sd = [1.5,1.4,1.4,1.4,1.2,1.0,0.8,0.6,0.3,0.2,0.2,0.3,0.55,0.5,0.4,0.3,0.2,0.1,0.08,0.06,0.05,0.05,0.05,0.05,0.05,0.05,0.05,0.05,0.05,0.05,0.05,0.05];
const bik_gr_10_sd = [1.8,1.8,1.7,1.5,1.2,1.0,0.8,0.6,0.4,0.3,0.3,0.3,0.35,0.35,0.3,0.25,0.2,0.1,0.08,0.06,0.05,0.05,0.05,0.05,0.05,0.05,0.05,0.05,0.05,0.05,0.05,0.05];
const bik_gr_15_sd = [1.6,1.7,1.6,1.4,1.2,1.0,0.8,0.6,0.4,0.3,0.2,0.2,0.2,0.2,0.2,0.2,0.15,0.1,0.08,0.06,0.05,0.05,0.05,0.05,0.05,0.05,0.05,0.05,0.05,0.05,0.05,0.05];

// ---------- panel tables (built from the arrays above) ----------
const S = (v, band) => Object.assign({v}, band || {});
const panels = [
  // row 1
  {frame:[42,192,31,154],days:D5,xDomain:[0,120],yDomain:[0,91],yTicks:[0,25,50,75],yFmt:"d",ends:END_LABELS[0],
   series:[S(tok_tot_n),S(tok_tot_5),S(tok_tot_10),S(tok_tot_15)]},
  {frame:[224,373,31,154],days:D5,xDomain:[0,120],yDomain:[0,56],yTicks:[0,20,40],yFmt:"d",ends:END_LABELS[1],
   series:[S(chi_tot_n,{sd:chi_tot_n_sd}),S(chi_tot_5,{sd:chi_tot_5_sd}),S(chi_tot_10,{sd:chi_tot_10_sd}),S(chi_tot_15,{sd:chi_tot_15_sd})]},
  {frame:[405,553,31,154],days:D5,xDomain:[0,120],yDomain:[0,50],yTicks:[0,20,40],yFmt:"d",ends:END_LABELS[2],
   series:[S(la_tot_n,{sd:la_tot_n_sd}),S(la_tot_5,{sd:la_tot_5_sd}),S(la_tot_10,{sd:la_tot_10_sd}),S(la_tot_15,{sd:la_tot_15_sd})]},
  {frame:[587,735,31,154],days:D5,xDomain:[0,120],yDomain:[0,89],yTicks:[0,25,50,75],yFmt:"d",ends:END_LABELS[3],
   series:[S(ist_tot_n),S(ist_tot_5),S(ist_tot_10),S(ist_tot_15)]},
  {frame:[768,917,31,154],days:D5,xDomain:[0,120],yDomain:[0,83.5],yTicks:[0,25,50,75],yFmt:"d",ends:END_LABELS[4],
   series:[S(jak_tot_n),S(jak_tot_5,{sd:jak_tot_m_sd}),S(jak_tot_10,{sd:jak_tot_m_sd}),S(jak_tot_15,{sd:jak_tot_m_sd})]},
  {frame:[950,1098,31,154],days:D5,xDomain:[0,120],yDomain:[0,39],yTicks:[0,10,20,30],yFmt:"d",ends:END_LABELS[5],
   series:[S(lon_tot_n,{sd:lon_tot_n_sd}),S(lon_tot_5,{sd:lon_tot_5_sd}),S(lon_tot_10,{sd:lon_tot_10_sd}),S(lon_tot_15,{sd:lon_tot_15_sd})]},
  {frame:[1131,1279,32,152],days:D5,xDomain:[0,120],yDomain:[0,52],yTicks:[0,20,40],yFmt:"d",ends:END_LABELS[6],bike:true,
   series:[S(bik_tot_n,{sd:bik_tot_sd}),S(bik_tot_5,{sd:bik_tot_sd}),S(bik_tot_10,{sd:bik_tot_sd}),S(bik_tot_15,{sd:bik_tot_sd})]},
  // row 2
  {frame:[43,204,223,356],days:D5T,xDomain:[0,128],yDomain:[0,68],yTicks:[0,20,40,60],yFmt:"d",
   series:[S(tok_act_n,{sd:tok_act_n_sd}),S(tok_act_5,{sd:tok_act_m_sd}),S(tok_act_10,{sd:tok_act_m_sd}),S(tok_act_15,{sd:tok_act_m_sd})]},
  {frame:[226,385,223,356],days:D5,xDomain:[0,121],yDomain:[0,31.3],yTicks:[0,10,20,30],yFmt:"d",
   series:[S(chi_act_n,{sd:chi_act_n_sd}),S(chi_act_5,{sd:chi_act_5_sd}),S(chi_act_10,{sd:chi_act_10_sd}),S(chi_act_15,{sd:chi_act_15_sd})]},
  {frame:[406,566,223,356],days:D5,xDomain:[0,121],yDomain:[0,26.5],yTicks:[0,10,20],yFmt:"d",
   series:[S(la_act_n,{sd:la_act_n_sd}),S(la_act_5,{sd:la_act_5_sd}),S(la_act_10,{sd:la_act_10_sd}),S(la_act_15,{sd:la_act_15_sd})]},
  {frame:[588,748,223,356],days:D5,xDomain:[0,120],yDomain:[0,52],yTicks:[0,20,40],yFmt:"d",
   series:[S(ist_act_n,{sd:ist_act_n_sd}),S(ist_act_5,{sd:ist_act_m_sd}),S(ist_act_10,{sd:ist_act_m_sd}),S(ist_act_15,{sd:ist_act_m_sd})]},
  {frame:[769,930,223,356],days:D5,xDomain:[0,120],yDomain:[0,52],yTicks:[0,20,40],yFmt:"d",
   series:[S(jak_act_n,{sd:jak_act_n_sd}),S(jak_act_5,{sd:jak_act_m_sd}),S(jak_act_10,{sd:jak_act_m_sd}),S(jak_act_15,{sd:jak_act_m_sd})]},
  {frame:[951,1112,223,356],days:D5,xDomain:[0,120],yDomain:[0,16.7],yTicks:[0,5,10,15],yFmt:"d",
   series:[S(lon_act_n,{sd:lon_act_n_sd}),S(lon_act_5,{sd:lon_act_5_sd}),S(lon_act_10,{sd:lon_act_10_sd}),S(lon_act_15,{sd:lon_act_15_sd})]},
  {frame:[1134,1293,224,354],days:D5,xDomain:[0,120],yDomain:[0,20],yTicks:[0,5,10,15],yFmt:"d",bike:true,
   series:[S(bik_act_n,{sd:bik_act_n_sd}),S(bik_act_5,{sd:bik_act_m_sd}),S(bik_act_10,{sd:bik_act_m_sd}),S(bik_act_15,{sd:bik_act_m_sd})]},
  // row 3
  {frame:[39,204,417,552],days:D5,xDomain:[0,121],yDomain:[0,4.76],yTicks:[0,2,4],yFmt:"d",
   series:[S(tok_new_n,{sd:tok_new_n_sd}),S(tok_new_5,{sd:tok_new_m_sd}),S(tok_new_10,{sd:tok_new_m_sd}),S(tok_new_15,{sd:tok_new_m_sd})]},
  {frame:[228,386,419,550],days:D5,xDomain:[0,121],yDomain:[0,1.94],yTicks:[0,0.5,1,1.5],yFmt:".1f",
   series:[S(chi_new_n,{sd:chi_new_n_sd}),S(chi_new_5,{sd:chi_new_5_sd}),S(chi_new_10,{sd:chi_new_10_sd}),S(chi_new_15,{sd:chi_new_15_sd})]},
  {frame:[409,566,419,550],days:D5,xDomain:[0,121],yDomain:[0,1.6],yTicks:[0,0.5,1,1.5],yFmt:".1f",
   series:[S(la_new_n,{sd:la_new_n_sd}),S(la_new_5,{sd:la_new_m_sd}),S(la_new_10,{sd:la_new_m_sd}),S(la_new_15,{sd:la_new_m_sd})]},
  {frame:[583,748,416,552],days:D5,xDomain:[0,121],yDomain:[0,3.9],yTicks:[0,1,2,3],yFmt:"d",
   series:[S(ist_new_n,{sd:ist_new_n_sd}),S(ist_new_5,{sd:ist_new_m_sd}),S(ist_new_10,{sd:ist_new_m_sd}),S(ist_new_15,{sd:ist_new_m_sd})]},
  {frame:[765,930,416,552],days:D5,xDomain:[0,121],yDomain:[0,3.7],yTicks:[0,1,2,3],yFmt:"d",
   series:[S(jak_new_n,{sd:jak_new_n_sd}),S(jak_new_5,{sd:jak_new_m_sd}),S(jak_new_10,{sd:jak_new_m_sd}),S(jak_new_15,{sd:jak_new_m_sd})]},
  {frame:[953,1111,423,551],days:D5,xDomain:[0,120],yDomain:[0,1.0],yTicks:[0,0.5,1],yFmt:".1f",
   series:[S(lon_new_n,{sd:lon_new_n_sd}),S(lon_new_5,{sd:lon_new_5_sd}),S(lon_new_10,{sd:lon_new_10_sd}),S(lon_new_15,{sd:lon_new_15_sd})]},
  {frame:[1136,1293,421,549],days:D5,xDomain:[0,120],yDomain:[0,1.4],yTicks:[0,0.5,1],yFmt:".1f",bike:true,
   series:[S(bik_new_n,{sd:bik_new_n_sd}),S(bik_new_5,{sd:bik_new_m_sd}),S(bik_new_10,{sd:bik_new_m_sd}),S(bik_new_15,{sd:bik_new_m_sd})]},
  // row 4
  {frame:[46,204,596,726],days:D4X,xDomain:[0,124.7],yDomain:[0.586,1.78],yTicks:[1,1.5],yFmt:".1f",dashed:true,
   series:[S(tok_gr_n,{sd:tok_gr_n_sd}),S(tok_gr_5,{sd:tok_gr_m_sd}),S(tok_gr_10,{sd:tok_gr_m_sd}),S(tok_gr_15,{sd:tok_gr_m_sd})]},
  {frame:[228,386,597,727],days:D4,xDomain:[0,121],yDomain:[-0.093,1.555],yTicks:[0,0.5,1,1.5],yFmt:".1f",dashed:true,
   series:[S(chi_gr_n,{lo:chi_gr_n_lo,hi:chi_gr_n_hi}),S(chi_gr_5,{lo:chi_gr_5_lo,hi:chi_gr_5_hi}),S(chi_gr_10,{lo:chi_gr_10_lo,hi:chi_gr_10_hi}),S(chi_gr_15,{lo:chi_gr_15_lo,hi:chi_gr_15_hi})]},
  {frame:[409,567,596,727],days:D4,xDomain:[0,121],yDomain:[-0.02,1.8],yTicks:[0,0.5,1,1.5],yFmt:".1f",dashed:true,
   series:[S(la_gr_n,{sd:la_gr_n_sd}),S(la_gr_5,{sd:la_gr_5_sd}),S(la_gr_10),S(la_gr_15,{sd:la_gr_15_sd})]},
  {frame:[595,748,599,726],days:D4,xDomain:[0,120],yDomain:[0.685,1.61],yTicks:[0.75,1,1.25,1.5],yFmt:".2f",dashed:true,
   series:[S(ist_gr_n,{sd:ist_gr_sd}),S(ist_gr_5,{sd:ist_gr_sd}),S(ist_gr_10,{sd:ist_gr_sd}),S(ist_gr_15,{sd:ist_gr_sd})]},
  {frame:[772,929,598,727],days:D4,xDomain:[0,121],yDomain:[0.63,1.72],yTicks:[1,1.5],yFmt:".1f",dashed:true,
   series:[S(jak_gr_n,{sd:jak_gr_sd}),S(jak_gr_5,{sd:jak_gr_sd}),S(jak_gr_10,{sd:jak_gr_sd}),S(jak_gr_15,{sd:jak_gr_sd})]},
  {frame:[954,1111,597,727],days:D4,xDomain:[0,120],yDomain:[-0.1,1.3],yTicks:[0,0.5,1],yFmt:".1f",dashed:true,
   series:[S(lon_gr_n,{lo:lon_gr_n_lo,hi:lon_gr_n_hi}),S(lon_gr_5,{lo:lon_gr_5_lo,hi:lon_gr_5_hi}),S(lon_gr_10,{lo:lon_gr_10_lo,hi:lon_gr_10_hi}),S(lon_gr_15,{lo:lon_gr_15_lo,hi:lon_gr_15_hi})]},
  {frame:[1138,1293,594,719],days:D4X,xDomain:[0,125.7],yDomain:[-0.06,7.23],yTicks:[0,2,4,6],yFmt:"d",dashed:true,bike:true,
   series:[S(bik_gr_n,{sd:bik_gr_n_sd}),S(bik_gr_5,{sd:bik_gr_5_sd}),S(bik_gr_10,{sd:bik_gr_10_sd}),S(bik_gr_15,{sd:bik_gr_15_sd})]}
];

// ---------- rendering ----------
const root = document.getElementById("root");

function addPanel(p) {
  const [x0,x1,y0,y1] = p.frame;
  const ml = 40, mr = 32, mt = 10, mb = 26;
  const marks = [];
  p.series.forEach((s,k) => {
    const rows = p.days.map((d,i) => {
      const o = {day:d, v:s.v[i]};
      if (s.lo) { o.lo = s.lo[i]; o.hi = s.hi[i]; }
      else if (s.sd) { o.lo = Math.max(0, s.v[i]-s.sd[i]); o.hi = s.v[i]+s.sd[i]; }
      return o;
    });
    if (s.lo || s.sd) marks.push(Plot.areaY(rows, {x:"day", y1:"lo", y2:"hi", fill:COLORS[k], fillOpacity:0.28, curve:"monotone-x", clip:true}));
    marks.push(Plot.line(rows, {x:"day", y:"v", stroke:COLORS[k], strokeWidth:1.6, curve:"monotone-x", clip:true}));
  });
  if (p.dashed) marks.push(Plot.ruleY([1], {stroke:"#000", strokeWidth:1.5, strokeDasharray:"5,3"}));
  marks.push(Plot.frame({stroke:"#000", strokeWidth:1}));
  marks.push(Plot.axisX(X_TICKS, {tickSize:3.5, tickPadding:1.5, tickFormat:"d", label:null}));
  marks.push(Plot.axisY(p.yTicks, {tickSize:3.5, tickPadding:1.5, tickFormat:d3.format(p.yFmt), label:null}));
  if (p.ends) marks.push(Plot.axisY(p.ends, {anchor:"right", tickSize:3.5, tickPadding:1.5, tickFormat:d => String(d), label:null}));
  const svg = Plot.plot({
    width:(x1-x0)+ml+mr, height:(y1-y0)+mt+mb,
    marginLeft:ml, marginRight:mr, marginTop:mt, marginBottom:mb,
    x:{domain:p.xDomain}, y:{domain:p.yDomain},
    style:{fontFamily:"'DejaVu Sans', sans-serif", fontSize: p.bike ? "10px" : "9.5px", letterSpacing: p.bike ? "-0.4px" : "-0.7px", color:"#111", background:"transparent", overflow:"visible"},
    marks
  });
  svg.style.position = "absolute";
  svg.style.left = (x0-ml) + "px";
  svg.style.top = (y0-mt) + "px";
  root.appendChild(svg);
}
panels.forEach(addPanel);

// row labels
const rowCenters = [[17,98],[17,295],[17,489],[18,667]];
ROW_LABELS.forEach((t,i) => {
  const d = document.createElement("div");
  d.className = "rowlab";
  d.style.left = rowCenters[i][0] + "px";
  d.style.top = rowCenters[i][1] + "px";
  if (t.includes("_")) {
    const [a, sub] = t.split("_");
    const base = a.slice(0, -1), sym = a.slice(-1);
    d.innerHTML = base + "<i>" + sym + "</i><sub style='font-size:0.7em'><i>" + sub.replace(")","") + "</i></sub>)";
  } else d.textContent = t;
  root.appendChild(d);
});

// bike-only axis labels (row 4)
const yl = document.createElement("div");
yl.className = "small";
yl.style.left = "1121px"; yl.style.top = "660px";
yl.style.fontSize = "9px";
yl.style.transform = "translate(-50%,-50%) rotate(-90deg)";
yl.innerHTML = "Reproduction number (<i>R</i><sub style='font-size:0.7em'>t</sub>)";
root.appendChild(yl);
const xl = document.createElement("div");
xl.className = "small";
xl.style.left = "1215px"; xl.style.top = "737px";
xl.style.transform = "translate(-50%,-50%)";
xl.textContent = "Days from start";
root.appendChild(xl);

// big x title
const bt = document.createElement("div");
bt.className = "big";
bt.style.left = "645px"; bt.style.top = "773px";
bt.textContent = "Days from Start";
root.appendChild(bt);

// legend
const lg = document.createElement("div");
lg.id = "legend";
const lineLeft = [8, 275, 421, 582];
const textLeft = [75, 341, 488, 649];
SERIES.forEach((s,i) => {
  const l = document.createElement("div");
  l.className = "lgline";
  l.style.left = lineLeft[i] + "px"; l.style.top = "18px"; l.style.width = "48px";
  l.style.background = COLORS[i];
  lg.appendChild(l);
  const t = document.createElement("div");
  t.className = "lgtext";
  t.style.left = textLeft[i] + "px"; t.style.top = "20px";
  t.textContent = s;
  lg.appendChild(t);
});
root.appendChild(lg);

// city names
const cityX = [117, 298.5, 479, 661, 842.5, 1024, 1205];
CITIES.forEach((c,i) => {
  const d = document.createElement("div");
  d.className = "city";
  d.style.left = cityX[i] + "px"; d.style.top = "883px";
  d.textContent = c;
  root.appendChild(d);
});
</script>
</body>
</html>
